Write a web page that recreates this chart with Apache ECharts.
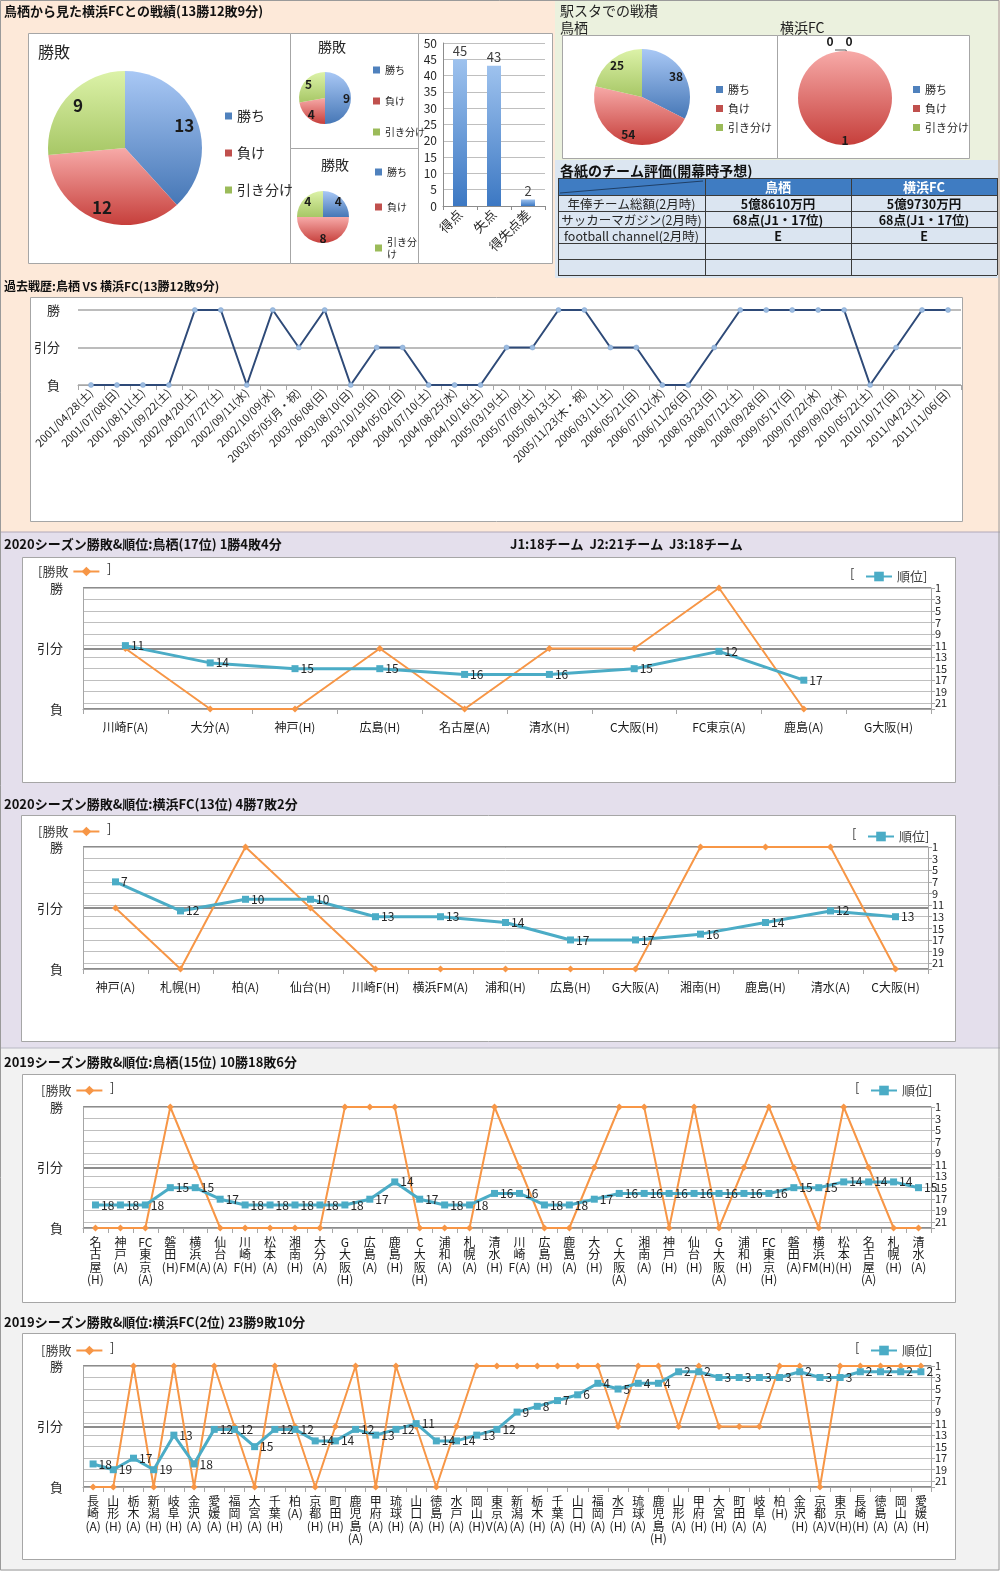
<!DOCTYPE html>
<html><head><meta charset="utf-8">
<script src="https://cdn.jsdelivr.net/npm/echarts@6/dist/echarts.min.js"></script>
<style>html,body{margin:0;padding:0;background:#fff}
#bg,#fg{position:absolute;left:0;top:0;width:1000px;height:1571px}</style>
</head><body><div id="bg"></div><div id="fg"></div><script>
const FONT = '"Noto Sans CJK JP","Noto Sans",sans-serif';

// ---------------- data ----------------
const resultNames = ['勝ち', '負け', '引き分け'];
const totalResult = [13, 12, 9];
const smallResultA = [9, 4, 5];
const smallResultB = [4, 8, 4];
const goalCats = ['得点', '失点', '得失点差'];
const goalVals = [45, 43, 2];
const ekiTosu = [38, 54, 25];
const ekiYokohama = [0, 1, 0];

const tableHead = ['', '鳥栖', '横浜FC'];
const tableRow1 = ['年俸チーム総額(2月時)', '5億8610万円', '5億9730万円'];
const tableRow2 = ['サッカーマガジン(2月時)', '68点(J1・17位)', '68点(J1・17位)'];
const tableRow3 = ['football channel(2月時)', 'E', 'E'];
const tableRow4 = ['', '', ''];
const tableRow5 = ['', '', ''];

const levelLabels = ['負', '引分', '勝'];   // 0,1,2
const rankMin = 1, rankMax = 22, rankStep = 2;

const histDates = ['2001/04/28(土)','2001/07/08(日)','2001/08/11(土)','2001/09/22(土)','2002/04/20(土)','2002/07/27(土)','2002/09/11(水)','2002/10/09(水)','2003/05/05(月・祝)','2003/06/08(日)','2003/08/10(日)','2003/10/19(日)','2004/05/02(日)','2004/07/10(土)','2004/08/25(水)','2004/10/16(土)','2005/03/19(土)','2005/07/09(土)','2005/08/13(土)','2005/11/23(木・祝)','2006/03/11(土)','2006/05/21(日)','2006/07/12(水)','2006/11/26(日)','2008/03/23(日)','2008/07/12(土)','2008/09/28(日)','2009/05/17(日)','2009/07/22(水)','2009/09/02(水)','2010/05/22(土)','2010/10/17(日)','2011/04/23(土)','2011/11/06(日)'];
const histResults = [0,0,0,0,2,2,0,2,1,2,0,1,1,0,0,0,1,1,2,2,1,1,0,0,1,2,2,2,2,2,0,1,2,2];

const tosu2020Teams = ['川崎F(A)','大分(A)','神戸(H)','広島(H)','名古屋(A)','清水(H)','C大阪(H)','FC東京(A)','鹿島(A)','G大阪(H)'];
const tosu2020Results = [1,0,0,1,0,1,1,2,0,null];
const tosu2020Ranks = [11,14,15,15,16,16,15,12,17,null];

const yfc2020Teams = ['神戸(A)','札幌(H)','柏(A)','仙台(H)','川崎F(H)','横浜FM(A)','浦和(H)','広島(H)','G大阪(A)','湘南(H)','鹿島(H)','清水(A)','C大阪(H)'];
const yfc2020Results = [1,0,2,1,0,0,0,0,0,2,2,2,0];
const yfc2020Ranks = [7,12,10,10,13,13,14,17,17,16,14,12,13];

const tosu2019Teams = ['名古屋(H)','神戸(A)','FC東京(A)','磐田(H)','横浜FM(A)','仙台(A)','川崎F(H)','松本(A)','湘南(H)','大分(A)','G大阪(H)','広島(A)','鹿島(H)','C大阪(H)','浦和(A)','札幌(A)','清水(H)','川崎F(A)','広島(H)','鹿島(A)','大分(H)','C大阪(A)','湘南(A)','神戸(H)','仙台(H)','G大阪(A)','浦和(H)','FC東京(H)','磐田(A)','横浜FM(H)','松本(H)','名古屋(A)','札幌(H)','清水(A)'];
const tosu2019Results = [0,0,0,2,1,0,0,0,0,0,2,2,2,0,0,0,2,1,0,0,1,2,2,0,2,0,1,2,1,0,2,1,0,0];
const tosu2019Ranks = [18,18,18,15,15,17,18,18,18,18,18,17,14,17,18,18,16,16,18,18,17,16,16,16,16,16,16,16,15,15,14,14,14,15];

const yfc2019Teams = ['長崎(A)','山形(H)','栃木(A)','新潟(H)','岐阜(H)','金沢(A)','愛媛(A)','福岡(H)','大宮(A)','千葉(H)','柏(A)','京都(H)','町田(H)','鹿児島(A)','甲府(A)','琉球(H)','山口(A)','徳島(H)','水戸(A)','岡山(H)','東京V(A)','新潟(A)','栃木(H)','千葉(A)','山口(H)','福岡(A)','水戸(H)','琉球(A)','鹿児島(H)','山形(A)','甲府(H)','大宮(H)','町田(A)','岐阜(A)','柏(H)','金沢(H)','京都(A)','東京V(H)','長崎(H)','徳島(A)','岡山(A)','愛媛(H)'];
const yfc2019Results = [0,0,2,0,2,0,2,1,0,2,1,0,1,2,0,2,1,0,1,2,2,2,2,2,2,2,1,2,2,1,2,1,1,1,2,2,0,2,2,2,2,2];
const yfc2019Ranks = [18,19,17,19,13,18,12,12,15,12,12,14,14,12,13,12,11,14,14,13,12,9,8,7,6,4,5,4,4,2,2,3,3,3,3,2,3,3,2,2,2,2];

// ---------------- background layer ----------------
const bgEls = [];
function rect(x, y, w, h, fill, stroke, lw) {
  bgEls.push({type:'rect', shape:{x, y, width:w, height:h}, style:{fill, stroke:stroke||null, lineWidth:lw||1}, silent:true});
}
function text(x, y, t, font, fill, align) {
  bgEls.push({type:'text', x, y, style:{text:t, font, fill:fill||'#111', textAlign:align||'left', textVerticalAlign:'middle'}, silent:true});
}
function line(x1, y1, x2, y2, stroke, lw) {
  bgEls.push({type:'line', shape:{x1, y1, x2, y2}, style:{stroke, lineWidth:lw||1}, silent:true});
}
rect(0, 0, 1000, 532, '#fde9d9');
rect(555, 0, 443, 160, '#ebf1de');
rect(555, 160, 443, 118, '#dce6f1');
rect(0, 532, 1000, 516, '#e4dfec');
rect(0, 1048, 1000, 523, '#f2f2f2');
line(0, 532, 1000, 532, '#b0a8b8', 1);
line(0, 1048, 1000, 1048, '#b8b8c4', 1);
rect(0.5, 0.5, 998.5, 1569.5, null, '#9a9a9a', 1);

const BOX = '#a6a6a6';
[[28,33,262,230],[290,33,128,115],[290,148,128,115],[418,33,134,230],
 [562,35,215,123],[777,35,192,123],
 [30,297,932,224],[22,557,933,225],[21,815,934,226],[22,1074,933,228],[22,1333,933,226]]
 .forEach(b => rect(b[0]+0.5, b[1]+0.5, b[2], b[3], '#ffffff', BOX, 1));

const TB = 'bold 13px ' + FONT;
text(4, 11, '鳥栖から見た横浜FCとの戦績(13勝12敗9分)', TB);
text(560, 11, '駅スタでの戦積', '14px ' + FONT, '#222');
text(560, 28, '鳥栖', '14px ' + FONT, '#222');
text(780, 28, '横浜FC', '14px ' + FONT, '#222');
text(560, 171, '各紙のチーム評価(開幕時予想)', 'bold 14px ' + FONT);
text(4, 286, '過去戦歴:鳥栖 VS 横浜FC(13勝12敗9分)', 'bold 12px ' + FONT);
text(4, 544, '2020シーズン勝敗&順位:鳥栖(17位) 1勝4敗4分', TB);
text(510, 544, 'J1:18チーム  J2:21チーム  J3:18チーム', TB);
text(4, 804, '2020シーズン勝敗&順位:横浜FC(13位) 4勝7敗2分', TB);
text(4, 1062, '2019シーズン勝敗&順位:鳥栖(15位) 10勝18敗6分', TB);
text(4, 1322, '2019シーズン勝敗&順位:横浜FC(2位) 23勝9敗10分', TB);

// table
const colX = [558, 705, 851, 997];
const rowY = [178, 195, 211, 227, 243, 259, 275];
const tableBody = [tableRow1, tableRow2, tableRow3, tableRow4, tableRow5];
rect(colX[0], rowY[0], colX[3]-colX[0], rowY[1]-rowY[0], '#3f7cc2');
rect(colX[0], rowY[1], colX[3]-colX[0], rowY[6]-rowY[1], '#dbe5f1');
line(colX[0]+2, rowY[1]-2, colX[1]-2, rowY[0]+3, '#1f3f66', 1);
tableHead.forEach((h, c) => {
  if (h) text((colX[c]+colX[c+1])/2, (rowY[0]+rowY[1])/2+1, h, 'bold 13px ' + FONT, '#ffffff', 'center');
});
tableBody.forEach((row, r) => {
  row.forEach((v, c) => {
    if (!v) return;
    const yy = (rowY[r+1]+rowY[r+2])/2+1;
    if (c === 0) text((colX[0]+colX[1])/2, yy, v, '12.5px ' + FONT, '#262626', 'center');
    else text((colX[c]+colX[c+1])/2, yy, v, 'bold 12.5px ' + FONT, '#111', 'center');
  });
});
rowY.forEach(y => line(colX[0], y+0.5, colX[3], y+0.5, '#3a3a3a', 1));
colX.forEach(x => line(x+0.5, rowY[0], x+0.5, rowY[6], '#3a3a3a', 1));

const bg = echarts.init(document.getElementById('bg'), null, {renderer:'canvas'});
bg.setOption({animation:false, graphic:{elements:bgEls}});

// ---------------- chart layer ----------------
const solid = ['#4f81bd', '#c0504d', '#9bbb59'];
const gradPairs = [['#a9c8f5', '#4677b6'], ['#f7aaa8', '#c63f3b'], ['#dcf2a8', '#a7c766']];
function grad(p) {
  return new echarts.graphic.LinearGradient(0, 0, 0, 1, [{offset:0, color:p[0]}, {offset:1, color:p[1]}]);
}
const grid = [], xAxis = [], yAxis = [], series = [], legend = [], fgEls = [];

// zeroOffsets: label offsets for zero-size slices (placed above the pie)
function addPie(vals, cx, cy, r, r0, fontSize, zeroOffsets) {
  series.push({type:'pie', center:[cx, cy], radius:[0, r], startAngle:90, clockwise:true, silent:true,
    label:{show:false}, labelLine:{show:false},
    data: resultNames.map((n, i) => ({name:n, value:vals[i], itemStyle:{color:grad(gradPairs[i])}}))});
  series.push({type:'pie', center:[cx, cy], radius:[r0, r], startAngle:90, clockwise:true, silent:true,
    avoidLabelOverlap:false,
    label:{show:true, position:'inside', formatter:'{c}', fontSize, fontWeight:'bold', color:'#1a1a1a', fontFamily:FONT},
    labelLine:{show:false},
    data: resultNames.map((n, i) => {
      const d = {name:n, value:vals[i], itemStyle:{color:'rgba(0,0,0,0)'}};
      if (vals[i] === 0 && zeroOffsets) d.label = {offset: zeroOffsets[i]};
      return d;
    })});
}
function addPieLegend(left, top, gap, fs, fmt) {
  legend.push({orient:'vertical', left, top, itemGap:gap, icon:'rect', itemWidth:7, itemHeight:7,
    selectedMode:false, formatter: fmt || (n => n),
    textStyle:{fontSize:fs, color:'#262626', fontFamily:FONT, lineHeight:fs+2},
    data: resultNames.map((n, i) => ({name:n, itemStyle:{color:solid[i]}}))});
}
addPie(totalResult, 125, 148, 77, 44, 17);
addPieLegend(220, 103, 21, 14);
addPie(smallResultA, 325, 98, 26, 11, 12);
addPieLegend(368, 59, 19, 10);
addPie(smallResultB, 323, 217, 26, 11, 12);
addPieLegend(370, 161, 23, 10, n => n === '引き分け' ? '引き分\nけ' : n);
addPie(ekiTosu, 642, 97, 48, 26, 12);
addPieLegend(711, 78, 6, 11);
addPie(ekiYokohama, 845, 98, 47, 31, 12, [[-15, -15], null, [4, -15]]);
addPieLegend(908, 78, 6, 11);
fgEls.push({type:'line', shape:{x1:835, y1:50, x2:846, y2:50}, style:{stroke:'#555', lineWidth:1}});
fgEls.push({type:'line', shape:{x1:846, y1:50, x2:847, y2:53}, style:{stroke:'#555', lineWidth:1}});

fgEls.push({type:'text', x:38, y:52, style:{text:'勝敗', font:'16px ' + FONT, fill:'#262626', textVerticalAlign:'middle'}});
fgEls.push({type:'text', x:318, y:47, style:{text:'勝敗', font:'14px ' + FONT, fill:'#262626', textVerticalAlign:'middle'}});
fgEls.push({type:'text', x:321, y:165, style:{text:'勝敗', font:'14px ' + FONT, fill:'#262626', textVerticalAlign:'middle'}});

// bar chart
grid.push({left:443, top:43, width:102, height:163});
xAxis.push({type:'category', gridIndex:0, data:goalCats,
  axisLine:{lineStyle:{color:'#8c8c8c'}}, axisTick:{show:true, length:4, lineStyle:{color:'#8c8c8c'}},
  axisLabel:{rotate:45, fontSize:13, color:'#262626', margin:6, interval:0, fontFamily:FONT}});
yAxis.push({type:'value', gridIndex:0, min:0, max:50, interval:5,
  axisLine:{show:true, lineStyle:{color:'#8c8c8c'}}, axisTick:{show:false},
  axisLabel:{fontSize:12, color:'#262626', margin:6},
  splitLine:{lineStyle:{color:'#bfbfbf'}}});
series.push({type:'bar', xAxisIndex:0, yAxisIndex:0, data:goalVals, barWidth:14, silent:true,
  itemStyle:{color:new echarts.graphic.LinearGradient(0,0,0,1,[{offset:0,color:'#9ec2ee'},{offset:1,color:'#3c78c3'}])},
  label:{show:true, position:'top', fontSize:13, color:'#404040', distance:2}});

// history chart
function addHistory() {
  const gi = grid.length;
  grid.push({left:78, top:310, width:883, height:75});
  xAxis.push({type:'category', gridIndex:gi, data:histDates, boundaryGap:true,
    axisLine:{lineStyle:{color:'#a6a6a6'}}, axisTick:{show:true, length:5, lineStyle:{color:'#a6a6a6'}},
    axisLabel:{rotate:45, fontSize:11, color:'#262626', margin:6, interval:0, fontFamily:FONT}});
  const yi = yAxis.length;
  yAxis.push({type:'value', gridIndex:gi, min:0, max:2, interval:1,
    axisLine:{show:false}, axisTick:{show:false},
    axisLabel:{formatter:v => levelLabels[v], fontSize:13, color:'#262626', margin:18, fontFamily:FONT},
    splitLine:{lineStyle:{color:'#a6a6a6', width:1.5}}});
  series.push({type:'line', xAxisIndex:xAxis.length-1, yAxisIndex:yi, data:histResults, silent:true,
    symbol:'circle', symbolSize:5, lineStyle:{color:'#2e4a78', width:2},
    itemStyle:{color:'#9bbbe0', borderColor:'#7fa3cf', borderWidth:0.5}});
}
addHistory();

function stackLabel(s) {
  return s.match(/[A-Za-z0-9()]+|./g).join('\n');
}

function addMatch(cfg) {
  const gi = grid.length;
  grid.push({left:cfg.left, top:cfg.top, width:cfg.width, height:cfg.height});
  const xi = xAxis.length;
  xAxis.push({type:'category', gridIndex:gi, data:cfg.teams, boundaryGap:true,
    axisLine:{lineStyle:{color:'#a6a6a6'}}, axisTick:{show:true, length:5, lineStyle:{color:'#a6a6a6'}},
    axisLabel: cfg.vertical
      ? {interval:0, fontSize:12, lineHeight:12.5, color:'#1a1a1a', margin:8, fontFamily:FONT, formatter:stackLabel, verticalAlign:'top'}
      : {interval:0, fontSize:12, color:'#1a1a1a', margin:12, fontFamily:FONT}});
  const yl = yAxis.length;
  yAxis.push({type:'value', gridIndex:gi, min:0, max:2, interval:1, position:'left',
    axisLine:{show:true, lineStyle:{color:'#a6a6a6'}}, axisTick:{show:false},
    axisLabel:{formatter:v => levelLabels[v], fontSize:13, color:'#262626', margin:20, fontFamily:FONT},
    splitLine:{lineStyle:{color:'#8c8c8c', width:2}}});
  const yr = yAxis.length;
  yAxis.push({type:'value', gridIndex:gi, position:'right', inverse:true, min:rankMin, max:rankMax, interval:rankStep,
    axisLine:{show:true, lineStyle:{color:'#a6a6a6'}}, axisTick:{show:true, length:4, lineStyle:{color:'#a6a6a6'}},
    axisLabel:{fontSize:11, lineHeight:10, color:'#262626', margin:4, showMinLabel:true, fontFamily:FONT,
      formatter: v => (v === rankMax ? '' : String(v))},
    splitLine:{lineStyle:{color:'#bfbfbf', width:1}}});
  series.push({type:'line', name:'勝敗', xAxisIndex:xi, yAxisIndex:yl, silent:true,
    data:cfg.results.map(v => v === null ? '-' : v),
    symbol:'diamond', symbolSize:7, lineStyle:{color:'#f79646', width:2}, itemStyle:{color:'#f79646'}, z:3});
  series.push({type:'line', name:'順位', xAxisIndex:xi, yAxisIndex:yr, silent:true,
    data:cfg.ranks.map(v => v === null ? '-' : v),
    symbol:'rect', symbolSize:7, lineStyle:{color:'#4bacc6', width:3}, itemStyle:{color:'#4bacc6'}, z:4,
    label:{show:true, position:'right', distance:2, fontSize:12, color:'#262626', fontFamily:FONT}});
  legend.push({left:cfg.legL - 2, top:cfg.legY - 8, align:'right', data:['勝敗'], selectedMode:false,
    formatter:() => '[勝敗', itemWidth:26, itemHeight:12, itemGap:4,
    textStyle:{fontSize:13, color:'#404040', fontFamily:FONT}});
  fgEls.push({type:'text', x:cfg.legL + 72, y:cfg.legY, style:{text:']', font:'13px ' + FONT, fill:'#404040', textVerticalAlign:'middle'}});
  legend.push({left:cfg.legR + 10, top:cfg.legY2 - 8, align:'left', data:['順位'], selectedMode:false,
    formatter:() => '順位]', itemWidth:26, itemHeight:12, itemGap:4,
    textStyle:{fontSize:13, color:'#404040', fontFamily:FONT}});
  fgEls.push({type:'text', x:cfg.legR, y:cfg.legY2, style:{text:'[', font:'13px ' + FONT, fill:'#404040', textVerticalAlign:'middle'}});
}

addMatch({teams:tosu2020Teams, results:tosu2020Results, ranks:tosu2020Ranks,
  left:83, top:588, width:848, height:121, legL:35, legY:568, legR:850, legY2:573});
addMatch({teams:yfc2020Teams, results:yfc2020Results, ranks:yfc2020Ranks,
  left:83, top:847, width:845, height:122, legL:35, legY:828, legR:852, legY2:833});
addMatch({teams:tosu2019Teams, results:tosu2019Results, ranks:tosu2019Ranks, vertical:true,
  left:83, top:1107, width:848, height:121, legL:38, legY:1087, legR:855, legY2:1087});
addMatch({teams:yfc2019Teams, results:yfc2019Results, ranks:yfc2019Ranks, vertical:true,
  left:83, top:1366, width:848, height:121, legL:38, legY:1347, legR:855, legY2:1347});

const fg = echarts.init(document.getElementById('fg'), null, {renderer:'canvas'});
fg.setOption({
  animation:false,
  backgroundColor:'transparent',
  textStyle:{fontFamily:FONT},
  grid, xAxis, yAxis, series, legend,
  graphic:{elements:fgEls}
});
</script></body></html>
